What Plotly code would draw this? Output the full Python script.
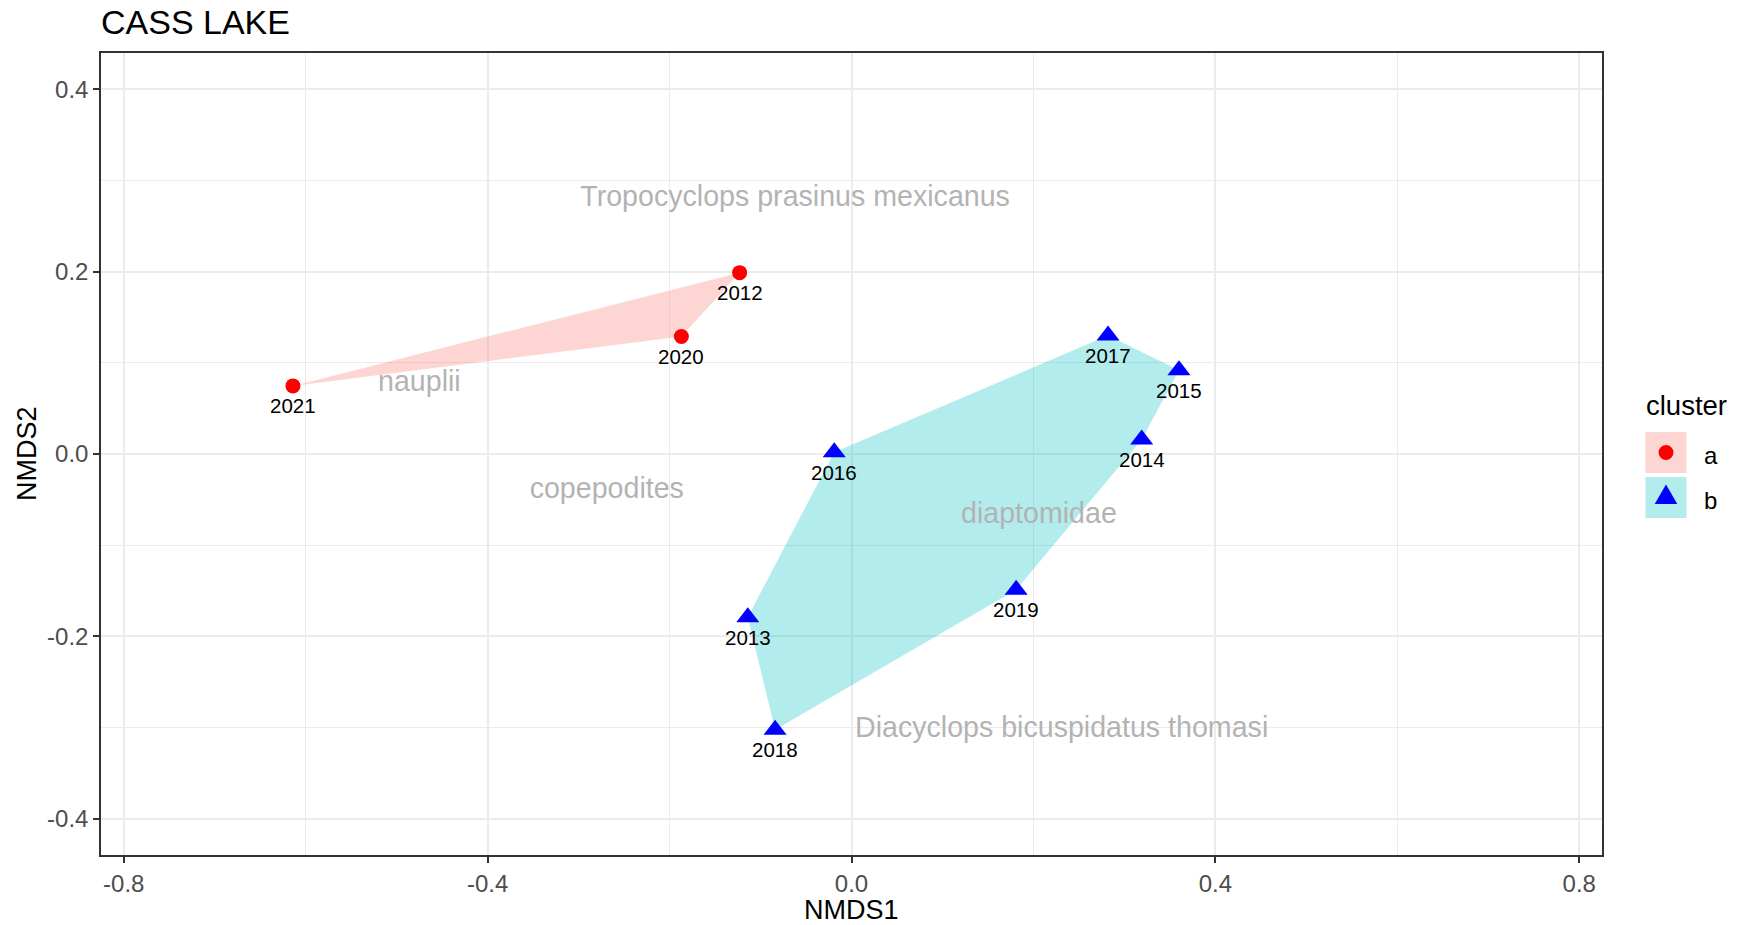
import plotly.graph_objects as go

# NMDS site scores, one per sampling year
years = ["2012", "2013", "2014", "2015", "2016", "2017", "2018", "2019", "2020", "2021"]
nmds1 = [-0.123, -0.114, 0.319, 0.360, -0.019, 0.282, -0.084, 0.181, -0.187, -0.614]
nmds2 = [0.199, -0.179, 0.016, 0.092, 0.002, 0.130, -0.3025, -0.149, 0.129, 0.0747]
cluster = ["a", "b", "b", "b", "b", "b", "b", "b", "a", "a"]

# species scores
species = ["Tropocyclops prasinus mexicanus", "nauplii", "copepodites",
           "diaptomidae", "Diacyclops bicuspidatus thomasi"]
species_x = [-0.062, -0.475, -0.269, 0.206, 0.231]
species_y = [0.280, 0.077, -0.040, -0.068, -0.303]

x_tick_vals = [-0.8, -0.4, 0.0, 0.4, 0.8]
x_tick_text = ["-0.8", "-0.4", "0.0", "0.4", "0.8"]
y_tick_vals = [-0.4, -0.2, 0.0, 0.2, 0.4]
y_tick_text = ["-0.4", "-0.2", "0.0", "0.2", "0.4"]
x_minor = [-0.6, -0.2, 0.2, 0.6]
y_minor = [-0.3, -0.1, 0.1, 0.3]

clusters = ["a", "b"]
fills = {"a": "rgba(248,118,109,0.3)", "b": "rgba(0,191,196,0.3)"}
marker_colors = {"a": "#FF0000", "b": "#0000FF"}
symbols = {"a": "circle", "b": "triangle-up"}
marker_sizes = {"a": 15, "b": 20}

FONT = "Liberation Sans"
W, H = 1745, 925
ML, MR, MT, MB = 101, 143, 53, 70
PW, PH = W - ML - MR, H - MT - MB


def px_x(px):
    return (px - ML) / PW


def px_y(py):
    return (H - MB - py) / PH


def convex_hull(pts):
    pts = sorted(set(pts))
    if len(pts) <= 2:
        return pts

    def cross(o, a, b):
        return (a[0] - o[0]) * (b[1] - o[1]) - (a[1] - o[1]) * (b[0] - o[0])

    lower, upper = [], []
    for p in pts:
        while len(lower) >= 2 and cross(lower[-2], lower[-1], p) <= 0:
            lower.pop()
        lower.append(p)
    for p in reversed(pts):
        while len(upper) >= 2 and cross(upper[-2], upper[-1], p) <= 0:
            upper.pop()
        upper.append(p)
    return lower[:-1] + upper[:-1]


fig = go.Figure()

# cluster hulls
for c in clusters:
    pts = [(x, y) for x, y, k in zip(nmds1, nmds2, cluster) if k == c]
    hull = convex_hull(pts)
    hx = [p[0] for p in hull] + [hull[0][0]]
    hy = [p[1] for p in hull] + [hull[0][1]]
    fig.add_trace(go.Scatter(
        x=hx, y=hy, mode="lines", fill="toself", fillcolor=fills[c],
        line=dict(width=0, color=fills[c]), hoverinfo="skip", showlegend=False))

# site points
for c in clusters:
    xs = [x for x, k in zip(nmds1, cluster) if k == c]
    ys = [y for y, k in zip(nmds2, cluster) if k == c]
    fig.add_trace(go.Scatter(
        x=xs, y=ys, mode="markers", name=c, showlegend=False,
        marker=dict(symbol=symbols[c], size=marker_sizes[c],
                    color=marker_colors[c], line=dict(width=0))))

# species labels
fig.add_trace(go.Scatter(
    x=species_x, y=species_y, mode="text", text=species,
    textposition="middle center", showlegend=False, hoverinfo="skip",
    textfont=dict(family=FONT, size=28.6, color="#B3B3B3")))

annotations = []
# year labels under each site
for x, y, t in zip(nmds1, nmds2, years):
    annotations.append(dict(
        x=x, y=y, xref="x", yref="y", text=t, showarrow=False,
        xanchor="center", yanchor="middle", yshift=-20,
        font=dict(family=FONT, size=20.5, color="#000000")))

# axis titles
annotations.append(dict(
    x=0.5, y=px_y(910), xref="paper", yref="paper", text="NMDS1",
    showarrow=False, xanchor="center", yanchor="middle",
    font=dict(family=FONT, size=27, color="#000000")))
annotations.append(dict(
    x=px_x(27), y=px_y(454), xref="paper", yref="paper", text="NMDS2",
    showarrow=False, xanchor="center", yanchor="middle", textangle=-90,
    font=dict(family=FONT, size=27, color="#000000")))

# legend
annotations.append(dict(
    x=px_x(1644), y=px_y(406), xref="paper", yref="paper", text="cluster",
    showarrow=False, xanchor="left", yanchor="middle",
    font=dict(family=FONT, size=27.5, color="#000000")))
key_tops = [432, 477]
shapes = []
for c, top in zip(clusters, key_tops):
    shapes.append(dict(
        type="rect", xref="paper", yref="paper",
        x0=px_x(1645.5), x1=px_x(1686.5), y0=px_y(top), y1=px_y(top + 41),
        fillcolor=fills[c], line=dict(width=0), layer="above"))
    cy = top + 20.5
    if symbols[c] == "circle":
        shapes.append(dict(
            type="circle", xref="paper", yref="paper",
            xsizemode="pixel", ysizemode="pixel",
            xanchor=px_x(1666), yanchor=px_y(cy),
            x0=-7.5, x1=7.5, y0=-7.5, y1=7.5,
            fillcolor=marker_colors[c], line=dict(width=0), layer="above"))
    else:
        shapes.append(dict(
            type="path", xref="paper", yref="paper",
            xsizemode="pixel", ysizemode="pixel",
            xanchor=px_x(1666), yanchor=px_y(cy),
            path="M -11.3,-6.5 L 11.3,-6.5 L 0,13 Z",
            fillcolor=marker_colors[c], line=dict(width=0), layer="above"))
    annotations.append(dict(
        x=px_x(1702), y=px_y(cy + 2.5), xref="paper", yref="paper", text=c,
        showarrow=False, xanchor="left", yanchor="middle",
        font=dict(family=FONT, size=24, color="#000000")))

axis_common = dict(
    showgrid=True, gridcolor="#EBEBEB", gridwidth=1.5, zeroline=False,
    showline=True, mirror=True, linecolor="#333333", linewidth=1.5,
    ticks="outside", ticklen=6, tickwidth=1.5, tickcolor="#333333",
    tickfont=dict(family=FONT, size=24, color="#4D4D4D"))

fig.update_layout(
    width=W, height=H,
    margin=dict(l=ML, r=MR, t=MT, b=MB, pad=0),
    paper_bgcolor="white", plot_bgcolor="white",
    title=dict(text="CASS LAKE", x=0, xref="paper", xanchor="left",
               y=1 - 21.7 / H, yref="container", yanchor="middle",
               font=dict(family=FONT, size=34, color="#000000")),
    xaxis=dict(range=[-0.825, 0.825], tickmode="array", tickvals=x_tick_vals,
               ticktext=x_tick_text,
               minor=dict(tickvals=x_minor, showgrid=True, gridcolor="#EBEBEB",
                          gridwidth=1, ticks=""),
               **axis_common),
    yaxis=dict(range=[-0.44, 0.44], tickmode="array", tickvals=y_tick_vals,
               ticktext=y_tick_text,
               minor=dict(tickvals=y_minor, showgrid=True, gridcolor="#EBEBEB",
                          gridwidth=1, ticks=""),
               **axis_common),
    annotations=annotations,
    shapes=shapes,
    showlegend=False,
)

fig.write_html("out.html")
